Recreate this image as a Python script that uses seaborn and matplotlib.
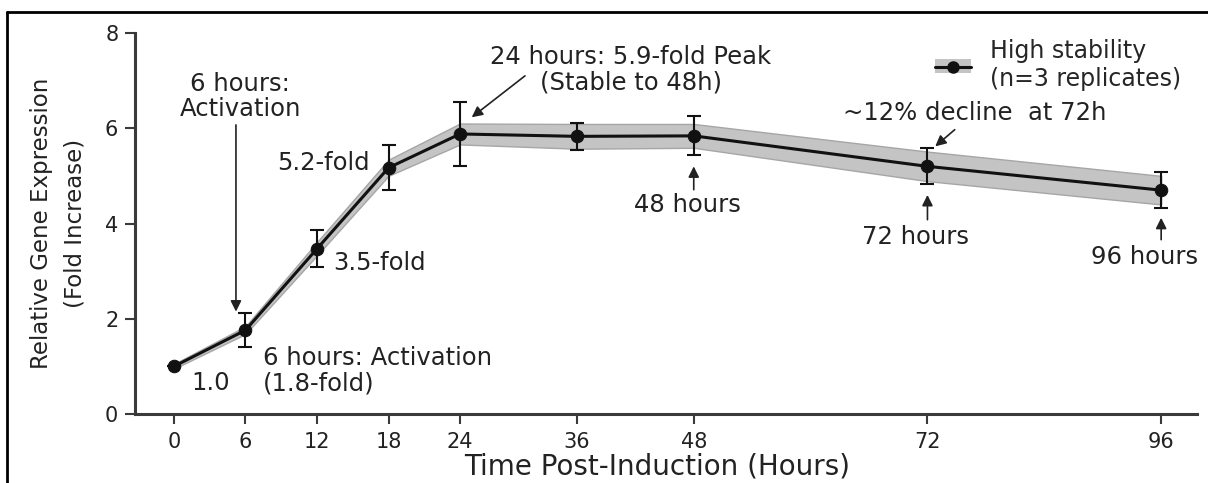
import numpy as np
import matplotlib
matplotlib.use('Agg')
import matplotlib.pyplot as plt
import seaborn as sns
from matplotlib.patches import Patch
from matplotlib.lines import Line2D

# ---- data ----
hours = [0, 6, 12, 18, 24, 36, 48, 72, 96]
mean_fold = [1.0, 1.76, 3.47, 5.17, 5.88, 5.83, 5.84, 5.20, 4.70]
err_sd = [0.0, 0.36, 0.39, 0.47, 0.67, 0.29, 0.41, 0.38, 0.38]
band_half = [0.05, 0.08, 0.14, 0.17, 0.22, 0.26, 0.25, 0.31, 0.30]
x_ticks = [0, 6, 12, 18, 24, 36, 48, 72, 96]
y_ticks = [0, 2, 4, 6, 8]
legend_label = "High stability\n(n=3 replicates)"

sns.set_theme(style='ticks')
plt.rcParams['font.family'] = ['DejaVu Sans']

fig = plt.figure(figsize=(12.08, 4.83), dpi=100)
ax = fig.add_axes([135/1208, 69/483, 1062/1208, 381/483])

# piecewise-linear x scale (0-24 h expanded)
K = 0.817
def fwd(x):
    x = np.asarray(x, float)
    return np.where(x <= 24, x, 24 + (x - 24) * K)
def inv(t):
    t = np.asarray(t, float)
    return np.where(t <= 24, t, 24 + (t - 24) / K)
ax.set_xscale('function', functions=(fwd, inv))

lo = [m - b for m, b in zip(mean_fold, band_half)]
hi = [m + b for m, b in zip(mean_fold, band_half)]
band_color = '#c4c4c4'
ax.fill_between(hours, lo, hi, facecolor=band_color, edgecolor='#a6a6a6', lw=1.0, zorder=1)
sns.lineplot(x=hours, y=mean_fold, ax=ax, color='#111111', lw=2.2, marker='o',
             markersize=9, markeredgecolor='#111111', legend=False, zorder=3)
ax.errorbar(hours, mean_fold, yerr=err_sd, fmt='none', ecolor='#111111',
            elinewidth=1.5, capsize=5, capthick=1.5, zorder=4)

ax.set_xlim(-3.27, 99.68)
ax.set_ylim(0, 8)
ax.set_xticks(x_ticks)
ax.set_xticklabels([str(t) for t in x_ticks])
ax.set_yticks(y_ticks)
ax.minorticks_off()
for s in ['top', 'right']:
    ax.spines[s].set_visible(False)
for s in ['left', 'bottom']:
    ax.spines[s].set_linewidth(2.2)
    ax.spines[s].set_color('#3a3a3a')
ax.tick_params(axis='both', direction='out', length=7, width=1.5, color='#3a3a3a')
ax.tick_params(axis='x', labelsize=15, pad=6, labelcolor='#222222')
ax.tick_params(axis='y', labelsize=15, pad=5, labelcolor='#222222')
ax.set_xlabel('Time Post-Induction (Hours)', fontsize=20, color='#222222')
ax.xaxis.set_label_coords(0.4915, -0.100)
ax.set_ylabel('Relative Gene Expression\n(Fold Increase)', fontsize=16.5,
              color='#222222', linespacing=1.55)
ax.yaxis.set_label_coords(-0.046, 0.5)

tc = '#222222'
fs = 17.5
arrow_kw = dict(arrowstyle='-|>', color='#222222', lw=1.2, mutation_scale=16,
                shrinkA=0, shrinkB=0)

def arrow(tail, head):
    ax.annotate('', xy=head, xytext=tail, arrowprops=arrow_kw)

ax.text(5.54, 6.67, '6 hours:\nActivation', ha='center', va='center', fontsize=fs,
        color=tc, linespacing=1.05)
arrow((5.2, 6.07), (5.2, 2.15))
ax.text(16.44, 5.27, '5.2-fold', ha='right', va='center', fontsize=fs, color=tc)
ax.text(13.37, 3.17, '3.5-fold', ha='left', va='center', fontsize=fs, color=tc)
ax.text(7.49, 0.91, '6 hours: Activation\n(1.8-fold)', ha='left', va='center',
        fontsize=fs, color=tc, linespacing=1.05)
ax.text(3.09, 0.65, '1.0', ha='center', va='center', fontsize=fs, color=tc)
ax.text(41.56, 7.23, '24 hours: 5.9-fold Peak\n(Stable to 48h)', ha='center', va='center',
        fontsize=fs, color=tc, linespacing=1.05)
arrow((30.67, 7.1), (25.2, 6.23))
ax.text(47.4, 4.39, '48 hours', ha='center', va='center', fontsize=fs, color=tc)
arrow((48, 4.71), (48, 5.2))
ax.text(76.8, 6.32, '~12% decline  at 72h', ha='center', va='center', fontsize=fs, color=tc)
arrow((74.8, 5.97), (72.8, 5.62))
ax.text(70.75, 3.72, '72 hours', ha='center', va='center', fontsize=fs, color=tc)
arrow((72, 4.08), (72, 4.6))
ax.text(94.3, 3.3, '96 hours', ha='center', va='center', fontsize=fs, color=tc)
arrow((96, 3.66), (96, 4.12))

h_band = Patch(facecolor=band_color, edgecolor='none')
h_line = Line2D([], [], color='#111111', lw=2.2, marker='o', markersize=8)
ax.legend([(h_band, h_line)], [legend_label], loc='upper left',
          bbox_to_anchor=(0.733, 1.04), frameon=False, fontsize=17,
          handlelength=1.55, handleheight=0.55, handletextpad=0.8, labelspacing=0.2)

# cropped outer frame: only top and left edges visible
fig.add_artist(Line2D([7/1208, 1.0], [1 - 12/483, 1 - 12/483],
                      transform=fig.transFigure, color='black', lw=2))
fig.add_artist(Line2D([7/1208, 7/1208], [0.0, 1 - 12/483],
                      transform=fig.transFigure, color='black', lw=2))

fig.savefig('out.png', dpi=100)
